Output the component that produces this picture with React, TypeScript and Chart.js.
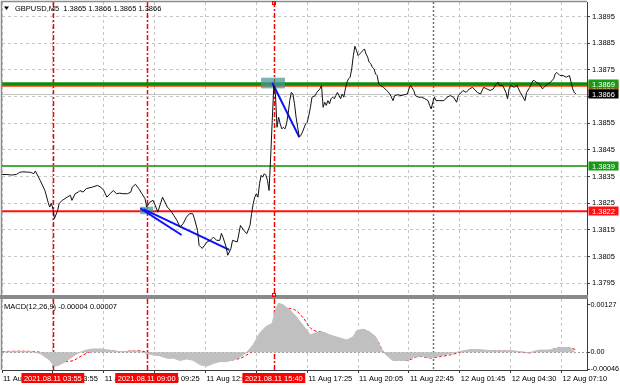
import React, { useEffect, useRef } from "react";
import { Chart, registerables } from "chart.js";
Chart.register(...registerables);

const FONT = '"Liberation Sans", Arial, sans-serif';
const FONT_SIZE = 7.5;

// ---------- DATA ----------
const symbolTitle = "GBPUSD,M5";
const lastBarOHLC = [1.3865, 1.3866, 1.3865, 1.3866];

const priceBars = [
  0, 3, 6, 9, 11, 13, 16, 18, 20, 21, 24, 27, 29, 30, 31, 32, 33, 35, 36, 38,
  41, 43, 44, 46, 48, 49, 51, 53, 57, 60, 62, 64, 66, 68, 70, 72, 74, 76, 79, 81,
  82, 84, 86, 88, 90, 91, 93, 95, 96, 98, 100, 101, 104, 106, 108, 110, 112, 114, 116, 118,
  120, 121, 123, 124, 125, 126, 129, 131, 133, 135, 137, 138, 139, 141, 142, 144, 145, 148, 150, 152,
  154, 156, 157, 158, 159, 160, 161, 162, 163, 164, 165, 166, 167, 168, 169, 170, 171, 172, 173, 174,
  175, 176, 177, 178, 179, 180, 181, 182, 183, 184, 185, 186, 187, 188, 189, 191, 192, 193, 194, 195,
  197, 198, 200, 201, 202, 203, 204, 205, 206, 207, 208, 209, 210, 211, 212, 213, 214, 215, 216, 217,
  218, 219, 220, 221, 222, 223, 224, 226, 227, 228, 229, 230, 231, 232, 233, 234, 235, 236, 237, 238,
  240, 242, 244, 246, 247, 249, 251, 253, 255, 256, 257, 259, 260, 262, 264, 266, 268, 269, 270, 271,
  272, 273, 275, 278, 280, 282, 284, 286, 287, 288, 290, 292, 294, 296, 299, 301, 303, 305, 307, 309,
  311, 312, 313, 315, 317, 318, 319, 320, 322, 324, 326, 329, 330, 332, 334, 335, 336, 338, 340, 342,
  345, 347, 348, 349, 351, 353, 355, 357, 358, 359, 360, 361,
];
const priceCloses = [
  1.38358, 1.38358, 1.38356, 1.38358, 1.38366, 1.38368, 1.38367, 1.38366, 1.38361, 1.38371, 1.38336, 1.38298, 1.38254, 1.38236, 1.3825, 1.38231, 1.38193, 1.38223, 1.3825, 1.38261,
  1.38273, 1.3828, 1.38261, 1.38286, 1.38292, 1.38298, 1.38292, 1.38305, 1.38311, 1.38317, 1.38311, 1.38298, 1.38273, 1.38286, 1.38298, 1.38286, 1.38288, 1.38286, 1.38286, 1.38292,
  1.38311, 1.38321, 1.38305, 1.38286, 1.38267, 1.38236, 1.38254, 1.38261, 1.38248, 1.38217, 1.38254, 1.38273, 1.38236, 1.38223, 1.38205, 1.38186, 1.38161, 1.38174, 1.38198, 1.38211,
  1.38211, 1.38193, 1.38149, 1.38092, 1.38086, 1.38081, 1.38105, 1.38111, 1.38123, 1.38111, 1.38111, 1.38137, 1.38123, 1.38086, 1.38055, 1.3808, 1.38111, 1.38105, 1.38167, 1.38149,
  1.38136, 1.38167, 1.38211, 1.38248, 1.38273, 1.38286, 1.38273, 1.38323, 1.38355, 1.38348, 1.38361, 1.38355, 1.38336, 1.38298, 1.38423, 1.38561, 1.38692, 1.3866, 1.38535, 1.38573,
  1.38548, 1.38529, 1.38535, 1.38529, 1.38548, 1.38586, 1.38635, 1.38666, 1.3866, 1.38623, 1.38573, 1.38535, 1.38498, 1.38505, 1.38517, 1.38548, 1.38554, 1.38579, 1.3861, 1.38648,
  1.38654, 1.38666, 1.38679, 1.38692, 1.3861, 1.38629, 1.38617, 1.38635, 1.38623, 1.38642, 1.38648, 1.38642, 1.38654, 1.38666, 1.38654, 1.38642, 1.3866, 1.38648, 1.38679, 1.38704,
  1.38717, 1.38723, 1.38754, 1.38804, 1.38839, 1.38823, 1.38804, 1.38816, 1.38823, 1.38829, 1.3881, 1.38798, 1.38779, 1.38773, 1.3876, 1.38754, 1.38735, 1.38729, 1.38698, 1.38692,
  1.38685, 1.38673, 1.3866, 1.38635, 1.38654, 1.38657, 1.38654, 1.38657, 1.3866, 1.38679, 1.38692, 1.38673, 1.38654, 1.38648, 1.38648, 1.38642, 1.38635, 1.38617, 1.38604, 1.38629,
  1.38648, 1.38635, 1.38635, 1.38635, 1.38648, 1.38654, 1.38648, 1.38629, 1.38654, 1.3866, 1.38673, 1.38666, 1.38679, 1.38685, 1.38666, 1.3866, 1.38685, 1.38679, 1.38673, 1.38679,
  1.38698, 1.38704, 1.38692, 1.38692, 1.38666, 1.38642, 1.38679, 1.38692, 1.38685, 1.38692, 1.38666, 1.38635, 1.38666, 1.38685, 1.3871, 1.3871, 1.38704, 1.38698, 1.38679, 1.38692,
  1.38704, 1.38717, 1.38735, 1.38741, 1.38729, 1.38729, 1.38723, 1.38729, 1.38704, 1.38679, 1.38666, 1.3866,
];

const histBars = [
  0, 8, 16, 20, 24, 27, 30, 33, 36, 40, 43, 46, 49, 53, 57, 62, 66, 70, 74, 78,
  83, 87, 91, 95, 99, 104, 108, 112, 116, 120, 125, 129, 133, 137, 141, 145, 150, 154, 158, 162,
  166, 170, 172, 174, 177, 181, 185, 190, 194, 198, 201, 206, 213, 217, 221, 223, 227, 231, 235, 238,
  240, 244, 246, 250, 255, 259, 265, 269, 273, 278, 282, 286, 290, 296, 303, 309, 315, 321, 328, 332,
  334, 338, 345, 349, 353, 357, 360, 361,
];
const histValues = [
  0.00001, 0.00002, 0.00002, 0.00001, -0.00003, -0.00012, -0.00021, -0.00038, -0.00034, -0.00025, -0.00016, -0.00007, 0, 0.00006, 0.00009, 0.00009, 0.00006, 0.00004, 0.00002, 0.00002,
  0.00004, 0.00002, -0.00003, -0.00007, -0.00009, -0.00016, -0.00016, -0.00022, -0.00018, -0.00021, -0.00034, -0.00037, -0.0003, -0.00025, -0.00025, -0.00021, -0.00012, 0, 0.0002, 0.00051,
  0.00069, 0.00078, 0.00114, 0.00132, 0.00127, 0.00114, 0.00096, 0.00069, 0.00047, 0.00053, 0.00055, 0.00047, 0.00038, 0.00033, 0.00042, 0.00058, 0.00062, 0.00055, 0.00042, 0.00015,
  0, -0.00016, -0.00022, -0.00022, -0.00021, -0.00012, -0.0001, -0.00016, -0.00012, -0.00007, -0.00003, 0, 0.00004, 0.00008, 0.00006, 0.00004, 0.00004, 0.00004, 0.00001, -0.00003,
  0.00002, 0.00006, 0.00006, 0.00011, 0.00013, 0.00013, 0.00002, -0.00004,
];

const signalBars = [
  0, 12, 20, 24, 30, 36, 40, 45, 49, 53, 57, 62, 66, 74, 83, 87, 91, 99, 108, 116,
  125, 133, 141, 150, 154, 158, 162, 168, 173, 177, 181, 185, 190, 194, 198, 201, 206, 213, 217, 223,
  227, 231, 236, 240, 246, 252, 256, 261, 265, 269, 275, 282, 288, 294, 300, 307, 315, 324, 330, 336,
  343, 349, 355, 358, 361,
];
const signalValues = [
  0.00002, 0.00003, 0.00002, 0, -0.00007, -0.00021, -0.00025, -0.00022, -0.00012, -0.00003, 0.00004, 0.00008, 0.00006, 0.00002, 0.00004, 0.00004, 0, -0.00007, -0.00012, -0.00016,
  -0.00022, -0.00025, -0.00023, -0.00016, -0.00007, 0.00004, 0.0002, 0.00051, 0.00082, 0.00112, 0.00118, 0.00112, 0.0009, 0.00065, 0.00056, 0.00055, 0.00046, 0.00034, 0.00029, 0.00048,
  0.0006, 0.00055, 0.00033, 0.00002, -0.00016, -0.00022, -0.00021, -0.00012, -0.00012, -0.00016, -0.00012, -0.00007, 0, 0.00006, 0.00006, 0.00004, 0.00004, 0.00002, -0.00001, 0.00002,
  0.00004, 0.00011, 0.00013, 0.00011, 0.00007,
];

const timeTickBars = [0, 32, 64, 96, 128, 160, 192, 224, 256, 288, 320, 352];
const timeTickLabels = [
  "11 Aug 01:15", "11 Aug 03:55", "11 Aug 06:35", "11 Aug 09:25", "11 Aug 12:05", "11 Aug 14:45",
  "11 Aug 17:25", "11 Aug 20:05", "11 Aug 22:45", "12 Aug 01:45", "12 Aug 04:30", "12 Aug 07:10",
];

const eventBars = [32, 91, 171];
const eventLabels = ["2021.08.11 03:55", "2021.08.11 09:00", "2021.08.11 15:40"];
const daySeparatorBar = 271;

const mainYTicks = [1.3795, 1.3805, 1.3815, 1.3825, 1.3835, 1.3845, 1.3855, 1.3865, 1.3875, 1.3885, 1.3895];
const hiddenMainTicks = [1.3865];
const mainYMin = 1.37906;
const mainYMax = 1.39005;

const macdTicks = [0.00127, 0, -0.00046];
const macdTickLabels = ["0.00127", "0.00", "-0.00046"];
const macdMin = -0.000475;
const macdMax = 0.001431;

const levelPrices = [1.3869, 1.38697, 1.3839, 1.3822];
const levelLabels = ["1.3869", "1.3869", "1.3839", "1.3822"];
const currentPrice = 1.3866;

const trendBarsA = [170, 187];
const trendPricesA = [1.38702, 1.38498];
const trendBarsB = [87, 113];
const trendPricesB = [1.38231, 1.38131];
const trendBarsC = [89, 143];
const trendPricesC = [1.38228, 1.38075];

const rectBars = [[163, 178], [87, 95]];
const rectPrices = [[1.38681, 1.38721], [1.38209, 1.38237]];

const macdParams = "12,26,9";

// ---------- STYLES ----------
const levelStyles = [
  { color: "#ff3a00", width: 1.5, tag: "#ff2a00" },
  { color: "#0b8f0b", width: 3.5, tag: "#169a16" },
  { color: "#0b8f0b", width: 1.6, tag: "#169a16" },
  { color: "#ff1010", width: 2, tag: "#ff1010" },
];
const GRID = "#c6c6c6";
const AXIS = "#3c3c3c";

const pts = (xs: number[], ys: number[]) => xs.map((x, i) => ({ x, y: ys[i] }));

function drawVerticals(chart: any) {
  const { ctx, chartArea: a, scales } = chart;
  const x = scales.x;
  ctx.save();
  ctx.beginPath();
  ctx.rect(a.left, a.top, a.right - a.left, a.bottom - a.top);
  ctx.clip();
  ctx.strokeStyle = "#ff0000";
  ctx.lineWidth = 1.5;
  ctx.setLineDash([5, 2, 2, 2]);
  for (const b of eventBars) {
    const px = Math.round(x.getPixelForValue(b)) + 0.5;
    ctx.beginPath();
    ctx.moveTo(px, a.top);
    ctx.lineTo(px, a.bottom);
    ctx.stroke();
  }
  ctx.strokeStyle = "#707070";
  ctx.lineWidth = 1.5;
  ctx.setLineDash([2, 2]);
  const sx = Math.round(x.getPixelForValue(daySeparatorBar)) + 0.5;
  ctx.beginPath();
  ctx.moveTo(sx, a.top);
  ctx.lineTo(sx, a.bottom);
  ctx.stroke();
  ctx.restore();
}

const xAxisBase = (showLabels: boolean) => ({
  type: "linear" as const,
  min: 0,
  max: 368,
  afterBuildTicks: (s: any) => {
    s.ticks = timeTickBars.map((v) => ({ value: v }));
  },
  afterFit: (s: any) => {
    s.height = showLabels ? 18 : 2;
    s.paddingLeft = 0;
    s.paddingRight = 0;
  },
  ticks: {
    display: showLabels,
    autoSkip: false,
    maxRotation: 0,
    minRotation: 0,
    align: "start" as const,
    labelOffset: 1,
    padding: 1.5,
    color: "#000",
    font: { family: FONT, size: FONT_SIZE },
    callback: (_v: any, i: number) => timeTickLabels[i],
  },
  grid: {
    color: GRID,
    lineWidth: 1,
    drawTicks: showLabels,
    tickLength: 3,
    tickColor: AXIS,
  },
  border: { display: showLabels, color: AXIS, width: 1, dash: [3, 3] },
});

const mainPlugin = {
  id: "mainDecor",
  beforeDatasetsDraw(chart: any) {
    const { ctx, chartArea: a, scales } = chart;
    const y = scales.y;
    const x = scales.x;
    drawVerticals(chart);
    ctx.save();
    ctx.beginPath();
    ctx.rect(a.left, a.top, a.right - a.left, a.bottom - a.top);
    ctx.clip();
    const cy = Math.round(y.getPixelForValue(currentPrice)) + 0.5;
    ctx.strokeStyle = "#c4c4c4";
    ctx.lineWidth = 1;
    ctx.beginPath();
    ctx.moveTo(a.left, cy);
    ctx.lineTo(a.right, cy);
    ctx.stroke();
    levelPrices.forEach((p, i) => {
      const st = levelStyles[i];
      const py = y.getPixelForValue(p);
      ctx.strokeStyle = st.color;
      ctx.lineWidth = st.width;
      ctx.beginPath();
      ctx.moveTo(a.left, py);
      ctx.lineTo(a.right, py);
      ctx.stroke();
    });
    ctx.fillStyle = "rgba(72,148,150,0.72)";
    rectBars.forEach((rb, i) => {
      const x1 = x.getPixelForValue(rb[0]);
      const x2 = x.getPixelForValue(rb[1]);
      const y1 = y.getPixelForValue(rectPrices[i][1]);
      const y2 = y.getPixelForValue(rectPrices[i][0]);
      ctx.fillRect(x1, y1, x2 - x1, y2 - y1);
    });
    ctx.restore();
  },
  afterDraw(chart: any) {
    const { ctx, chartArea: a, scales } = chart;
    const y = scales.y;
    const x = scales.x;
    ctx.save();
    ctx.strokeStyle = "#8c8c8c";
    ctx.lineWidth = 1.5;
    ctx.beginPath();
    ctx.moveTo(a.left - 0.5, a.bottom);
    ctx.lineTo(a.left - 0.5, a.top - 0.5);
    ctx.lineTo(a.right, a.top - 0.5);
    ctx.stroke();
    ctx.fillStyle = "#8a8a8a";
    ctx.fillRect(0, a.bottom, a.right + 1, chart.height - a.bottom);
    ctx.font = `${FONT_SIZE}px ${FONT}`;
    ctx.textBaseline = "middle";
    ctx.textAlign = "left";
    const tag = (v: number, text: string, bg: string) => {
      const py = Math.round(y.getPixelForValue(v));
      ctx.fillStyle = bg;
      ctx.fillRect(a.right + 1.5, py - 4.5, 30, 9);
      ctx.fillStyle = "#fff";
      ctx.fillText(text, a.right + 5, py + 0.5);
    };
    levelPrices.forEach((p, i) => tag(p, levelLabels[i], levelStyles[i].tag));
    tag(currentPrice, currentPrice.toFixed(4), "#000");
    ctx.fillStyle = "#000";
    ctx.beginPath();
    ctx.moveTo(4, 6.5);
    ctx.lineTo(9, 6.5);
    ctx.lineTo(6.5, 10);
    ctx.closePath();
    ctx.fill();
    ctx.fillText(
      `${symbolTitle}  ${lastBarOHLC.map((v) => v.toFixed(4)).join(" ")}`,
      15,
      8.5
    );
    const ex = Math.round(x.getPixelForValue(eventBars[2]));
    ctx.strokeStyle = "#ff0000";
    ctx.lineWidth = 1;
    ctx.strokeRect(ex - 1.5, 1.5, 3, 3);
    ctx.strokeRect(ex - 1.5, chart.height - 3.5, 3, 3);
    ctx.restore();
  },
};

const macdPlugin = {
  id: "macdDecor",
  beforeDatasetsDraw(chart: any) {
    drawVerticals(chart);
  },
  afterDraw(chart: any) {
    const { ctx, chartArea: a, scales } = chart;
    const x = scales.x;
    ctx.save();
    ctx.fillStyle = "#8a8a8a";
    ctx.fillRect(0, 0, a.right + 1, a.top);
    ctx.strokeStyle = "#8c8c8c";
    ctx.lineWidth = 1.5;
    ctx.beginPath();
    ctx.moveTo(a.left - 0.5, a.top);
    ctx.lineTo(a.left - 0.5, a.bottom);
    ctx.stroke();
    ctx.font = `${FONT_SIZE}px ${FONT}`;
    ctx.textBaseline = "middle";
    ctx.fillStyle = "#000";
    ctx.textAlign = "left";
    const lastMain = histValues[histValues.length - 1];
    const lastSig = signalValues[signalValues.length - 1];
    ctx.fillText(`MACD(${macdParams}) ${lastMain.toFixed(5)} ${lastSig.toFixed(5)}`, 4, 9.5);
    const ly = a.bottom + 9;
    eventBars.forEach((b, i) => {
      const px = x.getPixelForValue(b);
      const w = ctx.measureText(eventLabels[i]).width + 5;
      ctx.fillStyle = "#ff0000";
      ctx.fillRect(px - w / 2, ly - 6, w, 10);
      ctx.fillStyle = "#fff";
      ctx.textAlign = "center";
      ctx.fillText(eventLabels[i], px, ly - 0.5);
    });
    ctx.restore();
  },
};

export default function App() {
  const mainRef = useRef<HTMLCanvasElement>(null);
  const macdRef = useRef<HTMLCanvasElement>(null);

  useEffect(() => {
    const main = new Chart(mainRef.current as HTMLCanvasElement, {
      type: "line",
      data: {
        datasets: [
          {
            data: pts(priceBars, priceCloses),
            borderColor: "#111",
            borderWidth: 1,
            pointRadius: 0,
            tension: 0,
            fill: false,
          },
          ...[
            [trendBarsA, trendPricesA],
            [trendBarsB, trendPricesB],
            [trendBarsC, trendPricesC],
          ].map(([b, p]) => ({
            data: pts(b, p),
            borderColor: "#0a14ff",
            borderWidth: 2,
            pointRadius: 0,
            tension: 0,
            fill: false,
          })),
        ],
      },
      options: {
        animation: false,
        responsive: false,
        events: [],
        layout: { padding: { left: 2, top: 2, right: 0, bottom: 0 } },
        plugins: { legend: { display: false }, tooltip: { enabled: false } },
        scales: {
          x: xAxisBase(false) as any,
          y: {
            type: "linear",
            position: "right",
            min: mainYMin,
            max: mainYMax,
            afterBuildTicks: (s: any) => {
              s.ticks = mainYTicks.map((v) => ({ value: v }));
            },
            afterFit: (s: any) => {
              s.width = 33;
              s.paddingTop = 0;
              s.paddingBottom = 0;
            },
            ticks: {
              color: "#000",
              padding: 2,
              font: { family: FONT, size: FONT_SIZE },
              callback: (v: any) => (hiddenMainTicks.includes(v) ? "" : Number(v).toFixed(4)),
            },
            grid: { color: GRID, lineWidth: 1, tickLength: 3, tickColor: AXIS },
            border: { display: true, color: AXIS, width: 1, dash: [3, 3] },
          } as any,
        },
      },
      plugins: [mainPlugin],
    });

    const macd = new Chart(macdRef.current as HTMLCanvasElement, {
      type: "line",
      data: {
        datasets: [
          {
            data: pts(histBars, histValues),
            borderColor: "#c0c0c0",
            backgroundColor: "#c0c0c0",
            borderWidth: 1,
            pointRadius: 0,
            tension: 0,
            fill: "origin",
          },
          {
            data: pts(signalBars, signalValues),
            borderColor: "#ff0000",
            borderWidth: 1,
            borderDash: [3, 2],
            pointRadius: 0,
            tension: 0.3,
            fill: false,
          },
        ],
      },
      options: {
        animation: false,
        responsive: false,
        events: [],
        layout: { padding: { left: 2, top: 2, right: 0, bottom: 0 } },
        plugins: { legend: { display: false }, tooltip: { enabled: false } },
        scales: {
          x: xAxisBase(true) as any,
          y: {
            type: "linear",
            position: "right",
            min: macdMin,
            max: macdMax,
            afterBuildTicks: (s: any) => {
              s.ticks = macdTicks.map((v) => ({ value: v }));
            },
            afterFit: (s: any) => {
              s.width = 33;
              s.paddingTop = 0;
              s.paddingBottom = 0;
            },
            ticks: {
              color: "#000",
              padding: 0.5,
              font: { family: FONT, size: 7.2 },
              callback: (_v: any, i: number) => macdTickLabels[i],
            },
            grid: {
              color: (c: any) => (c.tick && c.tick.value === 0 ? "#9a9a9a" : "rgba(0,0,0,0)"),
              lineWidth: 1,
              tickLength: 3,
              tickColor: AXIS,
            },
            border: { display: true, color: AXIS, width: 1, dash: [2, 2] },
          } as any,
        },
      },
      plugins: [macdPlugin],
    });

    return () => {
      main.destroy();
      macd.destroy();
    };
  }, []);

  return (
    <div
      style={{
        position: "absolute",
        left: 0,
        top: 0,
        width: 620,
        height: 388,
        background: "#fff",
        overflow: "hidden",
      }}
    >
      <canvas
        ref={mainRef}
        width={620}
        height={297}
        style={{ position: "absolute", left: 0, top: 0, width: 620, height: 297 }}
      />
      <canvas
        ref={macdRef}
        width={620}
        height={91}
        style={{ position: "absolute", left: 0, top: 297, width: 620, height: 91 }}
      />
    </div>
  );
}
